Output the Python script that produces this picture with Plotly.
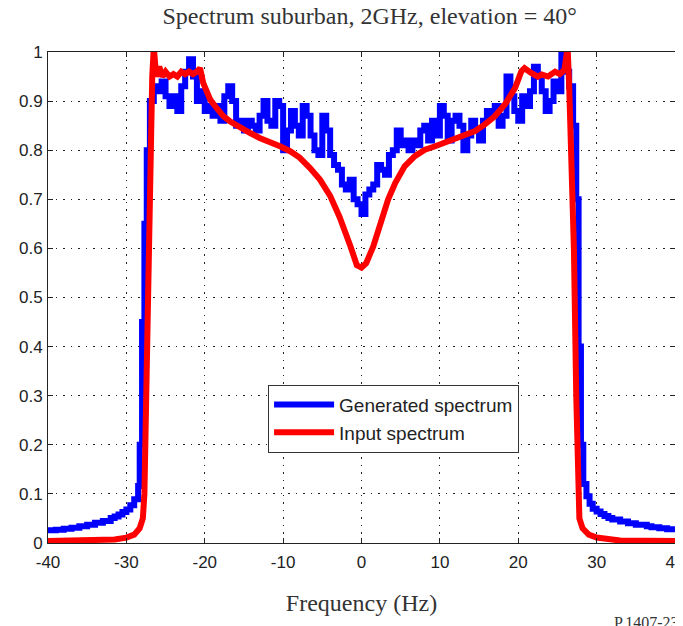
import plotly.graph_objects as go

# ---------------- data ----------------
gen_freq = [-40, -39, -38, -37, -36, -35, -34, -33, -32, -31.5, -31, -30.5, -30, -29.5, -29,
            -28.5, -28.3, -28.0, -27.7, -27.4, -27.0,
            -26.5, -26.0, -25.5, -25.0, -24.5, -24.0, -23.5, -23.0, -22.5, -22.0, -21.5, -21.0,
            -20.5, -20.0, -19.5, -19.0, -18.5, -18.0, -17.5, -17.0, -16.5, -16.0, -15.5, -15.0,
            -14.5, -14.0, -13.5, -13.0, -12.5, -12.0, -11.5, -11.0, -10.5, -10.0, -9.5, -9.0,
            -8.5, -8.0, -7.5, -7.0, -6.5, -6.0, -5.5, -5.0, -4.5, -4.0, -3.5, -3.0, -2.5, -2.0,
            -1.5, -1.0, -0.5, 0.0, 0.5, 1.0, 1.5, 2.0, 2.5, 3.0, 3.5, 4.0, 4.5, 5.0, 5.5, 6.0,
            6.5, 7.0, 7.5, 8.0, 8.5, 9.0, 9.5, 10.0, 10.5, 11.0, 11.5, 12.0, 12.5, 13.0, 13.5,
            14.0, 14.5, 15.0, 15.5, 16.0, 16.5, 17.0, 17.5, 18.0, 18.5, 19.0, 19.5, 20.0, 20.5,
            21.0, 21.5, 22.0, 22.5, 23.0, 23.5, 24.0, 24.5, 25.0, 25.5, 26.0, 26.5, 27.0, 27.4,
            27.7, 28.0, 28.3, 28.7, 29.1, 29.5, 30.0, 30.5, 31, 31.5, 32, 33, 34, 35, 36.4, 37, 38, 39, 40]
gen_power = [0.026, 0.027, 0.029, 0.031, 0.034, 0.037, 0.041, 0.045, 0.051, 0.054, 0.058, 0.063, 0.068, 0.077, 0.089,
             0.116, 0.20, 0.45, 0.65, 0.80, 0.90,
             0.93, 0.92, 0.94, 0.91, 0.89, 0.91, 0.88, 0.93, 0.96, 0.985, 0.95, 0.90,
             0.92, 0.88, 0.89, 0.87, 0.89, 0.86, 0.91, 0.93, 0.90, 0.85, 0.86, 0.84,
             0.86, 0.85, 0.84, 0.87, 0.90, 0.86, 0.85, 0.90, 0.89, 0.80, 0.84, 0.88,
             0.85, 0.83, 0.89, 0.87, 0.83, 0.80, 0.79, 0.87, 0.84, 0.79, 0.77, 0.76, 0.73, 0.72,
             0.74, 0.70, 0.69, 0.67, 0.71, 0.72, 0.73, 0.77, 0.76, 0.75, 0.79, 0.80, 0.84, 0.81, 0.82, 0.80,
             0.82, 0.81, 0.84, 0.85, 0.82, 0.86, 0.83, 0.89, 0.87, 0.82, 0.86, 0.87, 0.85, 0.80, 0.83,
             0.86, 0.84, 0.82, 0.86, 0.88, 0.87, 0.89, 0.85, 0.87, 0.95, 0.91, 0.88, 0.86, 0.91,
             0.89, 0.92, 0.97, 0.95, 0.92, 0.88, 0.90, 0.94, 0.92, 1.0, 0.96, 0.93, 0.85, 0.70,
             0.40, 0.20, 0.12, 0.095, 0.080, 0.070, 0.064, 0.059, 0.055, 0.051, 0.048, 0.044, 0.040, 0.037, 0.034,
             0.032, 0.030, 0.028, 0.026]

inp_freq = [-40, -33, -31.5, -30, -29, -28.3, -27.9, -27.7, -27.5, -27.2, -26.9, -26.7, -26.5,
            -26.2, -25.8, -25.4, -25.0, -24.5, -24.0, -23.5, -23.0, -22.5, -22.0, -21.5, -21.0,
            -20.6, -20.2, -19.3, -18.5, -17.6, -16.8, -15.5, -14.2, -13.0, -11.7, -10.4, -9.1,
            -7.9, -6.6, -5.3, -4.0, -2.8, -1.4, -0.6, 0.0, 0.6, 1.5, 2.6, 3.4, 4.3, 5.5, 6.8,
            8.1, 9.4, 10.6, 11.9, 13.2, 14.5, 15.7, 17.0, 18.3, 19.6, 20.4, 20.8, 21.7, 22.5,
            23.0, 23.8, 24.7, 25.3, 25.9, 26.3, 26.5, 26.8, 27.1, 27.4, 27.6, 27.8, 28.2, 29.0,
            30.0, 31.5, 33, 40]
inp_power = [0.004, 0.005, 0.007, 0.011, 0.017, 0.030, 0.050, 0.10, 0.30, 0.60, 0.80, 0.95, 1.01,
             0.95, 0.97, 0.95, 0.96, 0.95, 0.955, 0.95, 0.96, 0.955, 0.96, 0.955, 0.96,
             0.967, 0.937, 0.903, 0.886, 0.869, 0.859, 0.846, 0.835, 0.825, 0.818, 0.808, 0.798,
             0.785, 0.764, 0.740, 0.707, 0.664, 0.604, 0.566, 0.561, 0.570, 0.604, 0.660, 0.700, 0.733, 0.767, 0.788,
             0.801, 0.808, 0.815, 0.822, 0.829, 0.839, 0.852, 0.869, 0.893, 0.927, 0.961, 0.967, 0.957, 0.95,
             0.954, 0.95, 0.96, 0.955, 0.964, 1.01, 0.93, 0.80, 0.60, 0.30, 0.10, 0.050, 0.030, 0.017,
             0.011, 0.007, 0.005, 0.004]

x_ticks = [-40, -30, -20, -10, 0, 10, 20, 30, 40]
x_tick_labels = ["-40", "-30", "-20", "-10", "0", "10", "20", "30", "40"]
y_ticks = [0, 0.1, 0.2, 0.3, 0.4, 0.5, 0.6, 0.7, 0.8, 0.9, 1]
y_tick_labels = ["0", "0.1", "0.2", "0.3", "0.4", "0.5", "0.6", "0.7", "0.8", "0.9", "1"]

SANS = "Liberation Sans, Arial, sans-serif"
SERIF = "Liberation Serif, Times New Roman, serif"

fig = go.Figure()
fig.add_trace(go.Scatter(x=gen_freq, y=gen_power, mode="lines", name="Generated spectrum",
                         line=dict(color="#0000FF", width=6, shape="hv")))
fig.add_trace(go.Scatter(x=inp_freq, y=inp_power, mode="lines", name="Input spectrum",
                         line=dict(color="#FF0000", width=6)))

axis_common = dict(showline=True, linecolor="#222222", linewidth=1, mirror="ticks",
                   ticks="inside", ticklen=5, tickcolor="#222222",
                   showgrid=True, gridcolor="#222222", gridwidth=1, griddash="1.5px,6px",
                   zeroline=False, ticklabeloverflow="allow", automargin=False,
                   tickfont=dict(family=SANS, size=17, color="#222222"))

fig.update_xaxes(range=[-40, 40], tickvals=x_ticks, ticktext=x_tick_labels,
                 ticklabelstandoff=4,
                 title=dict(text="Frequency (Hz)", font=dict(family=SERIF, size=24, color="#333333"),
                            standoff=22),
                 **axis_common)
fig.update_yaxes(range=[0, 1], tickvals=y_ticks, ticktext=y_tick_labels,
                 ticklabelstandoff=1, **axis_common)

# the page body adds an 8 px offset, so the figure is 675x618 to fill the 683x626 window
fig.update_layout(
    width=675, height=618,
    margin=dict(l=40, r=8, t=44, b=82.5),
    paper_bgcolor="white", plot_bgcolor="white",
    title=dict(text="Spectrum suburban, 2GHz, elevation = 40°", x=0.513, xref="paper", xanchor="center",
               y=1 - 8 / 618, yref="container", yanchor="middle",
               font=dict(family=SERIF, size=24, color="#333333")),
    showlegend=True,
    legend=dict(x=0.351, y=0.3225, xanchor="left", yanchor="top",
                bgcolor="white", bordercolor="#333333", borderwidth=1,
                font=dict(family=SANS, size=19, color="#222222"),
                tracegroupgap=0, itemwidth=60),
    annotations=[dict(text="P.1407-23", xref="paper", yref="paper", x=0.8995, y=-0.1414,
                      xanchor="left", yanchor="top", showarrow=False,
                      font=dict(family=SERIF, size=16, color="#333333"))],
)

fig.write_html("out.html")
